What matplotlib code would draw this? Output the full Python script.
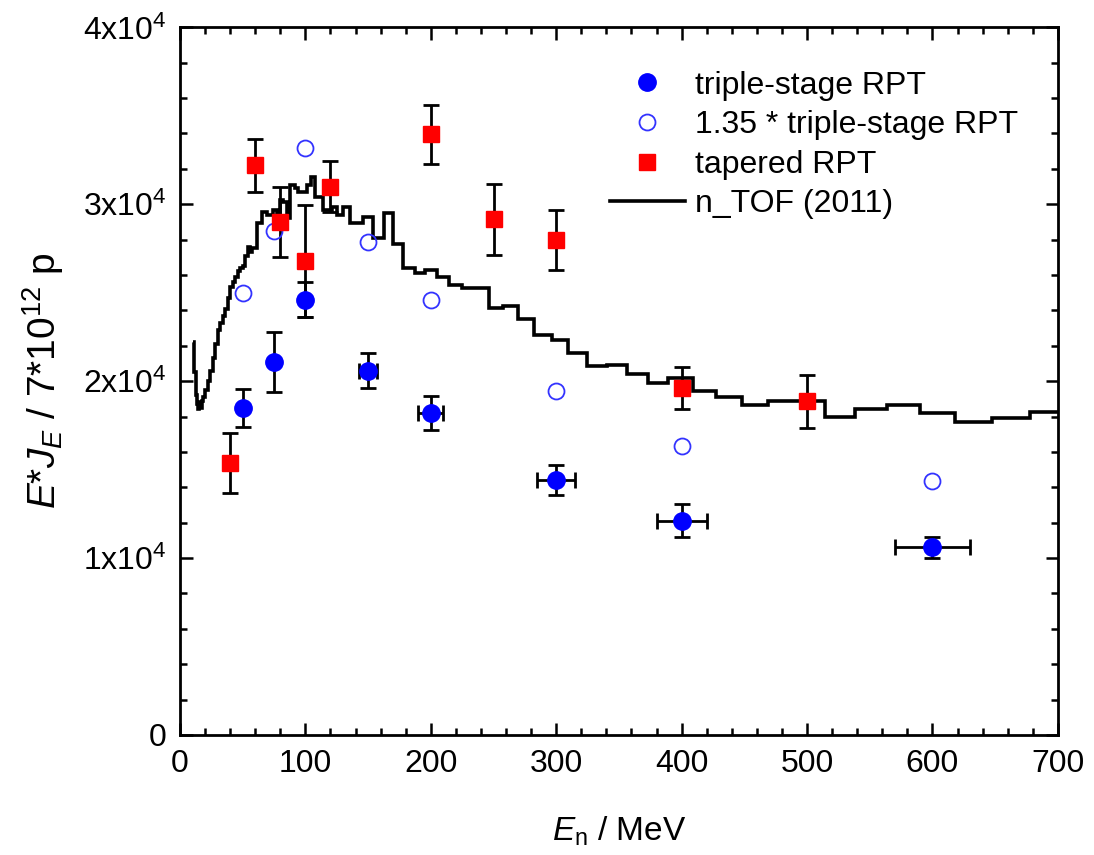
import numpy as np
import matplotlib
matplotlib.use("Agg")
import matplotlib.pyplot as plt
from matplotlib.ticker import MultipleLocator

plt.rcParams['font.family'] = ['Liberation Sans', 'DejaVu Sans']
plt.rcParams['mathtext.fontset'] = 'custom'
plt.rcParams['mathtext.rm'] = 'Liberation Sans'
plt.rcParams['mathtext.it'] = 'Liberation Sans:italic'
plt.rcParams['mathtext.default'] = 'regular'

# triple-stage RPT (filled circles)
ts_E = [50, 75, 100, 150, 200, 300, 400, 600]
ts_flux = [18500, 21100, 24600, 20600, 18200, 14400, 12100, 10600]
ts_yerr = [1070, 1700, 980, 1000, 950, 850, 930, 600]
ts_xerr = [0, 0, 0, 7, 10, 15, 20, 30]

# 1.35 * triple-stage RPT (open circles)
sc_flux = [25000, 28500, 33200, 27850, 24600, 19450, 16330, 14350]

# tapered RPT (red squares)
tap_E = [40, 60, 80, 100, 120, 200, 250, 300, 400, 500]
tap_flux = [15350, 32200, 29000, 26800, 31000, 33950, 29150, 27970, 19600, 18870]
tap_err = [1700, 1500, 2000, 3150, 1450, 1650, 2000, 1700, 1180, 1500]

# n_TOF (2011) histogram: bin edges and heights
tof_edges = [10.5, 11.5, 12.5, 13.5, 14.5, 15.5, 16.5, 17.5, 18.5, 20, 22, 24, 26, 28,
             30, 32, 34, 36, 38, 40, 42, 44, 46, 48, 50, 52, 54, 55.5, 57.4, 61.4,
             65.4, 69.4, 74.1, 77.3, 79.7, 82.1, 85.3, 87.7, 91.7, 94.1, 101.3, 104.4,
             107.6, 114, 121.2, 125.2, 130, 135.5, 145.9, 153.9, 162.6, 170.1, 178,
             187.4, 195.3, 204.7, 214.7, 224.6, 246.3, 257.8, 269.7, 282.2, 296.3,
             309.6, 324.2, 340.2, 356.1, 373.4, 389.3, 408.8, 427.3, 448.3, 469,
             514.2, 538.2, 563.4, 590, 617.9, 647.1, 677.7, 705]
tof_flux = [22200, 20500, 19200, 18700, 18450, 18800, 18500, 18900, 19100, 19500, 20000,
            20600, 21300, 22100, 22900, 23300, 23700, 24100, 24700, 25300, 25600, 25900,
            26200, 26400, 26500, 27100, 27600, 27300, 27500, 28930, 29550, 29380, 29660,
            29380, 30230, 30110, 29210, 31070, 30900, 30680, 31070, 31530, 30400, 29660,
            29830, 29380, 29830, 28930, 29270, 28080, 29490, 27780, 26370, 26120, 26310,
            25890, 25420, 25250, 24160, 24240, 23540, 22600, 22320, 21600, 20850, 20940,
            20400, 19870, 20190, 19450, 19110, 18680, 18880, 17980, 18400, 18640, 18180,
            17670, 17930, 18270]

fig = plt.figure(figsize=(10.94, 8.55), dpi=100)
ax = fig.add_axes([0.1645, 0.1404, 0.8025, 0.8276])

ax.stairs(tof_flux, tof_edges, baseline=None, color='black', lw=2.6, zorder=2)
ax.plot([], [], color='black', lw=2.6, label='n_TOF (2011)')

ax.errorbar(ts_E, ts_flux, yerr=ts_yerr, xerr=ts_xerr, fmt='none', ecolor='black',
            elinewidth=2, capsize=6, capthick=2, zorder=3)
ax.errorbar(tap_E, tap_flux, yerr=tap_err, fmt='none', ecolor='black',
            elinewidth=2, capsize=6, capthick=2, zorder=3)

ax.plot(ts_E, ts_flux, 'o', color='#0000ff', ms=12.5, zorder=4, label='triple-stage RPT')
ax.plot(ts_E, sc_flux, 'o', mfc='none', mec='#3333ff', mew=1.3, ms=11.5, zorder=4,
        label='1.35 * triple-stage RPT')
ax.plot(tap_E, tap_flux, 's', color='#ff0000', ms=11, zorder=4, label='tapered RPT')

ax.set_xlim(0, 700)
ax.set_ylim(0, 40000)
ax.xaxis.set_major_locator(MultipleLocator(100))
ax.xaxis.set_minor_locator(MultipleLocator(20))
ax.yaxis.set_minor_locator(MultipleLocator(2000))
ax.set_yticks([0, 10000, 20000, 30000, 40000])
ax.set_yticklabels(['0', '1x10$^4$', '2x10$^4$', '3x10$^4$', '4x10$^4$'])

ax.tick_params(which='both', direction='in', top=True, right=True, labelsize=23, width=1.8)
ax.tick_params(which='major', length=9, pad=10)
ax.tick_params(which='minor', length=5)
for s in ax.spines.values():
    s.set_linewidth(2)

ax.set_xlabel(r'$\mathit{E}_\mathrm{n}$ / MeV', fontsize=24, labelpad=26)
ax.set_ylabel(r'$\mathit{E}$*$\mathit{J}_\mathit{E}$ / 7*10$^{12}$ p', fontsize=28, labelpad=12)

handles, labels = ax.get_legend_handles_labels()
order = [labels.index(l) for l in ['triple-stage RPT', '1.35 * triple-stage RPT',
                                   'tapered RPT', 'n_TOF (2011)']]
ax.legend([handles[i] for i in order], [labels[i] for i in order], loc='upper left',
          bbox_to_anchor=(0.4897, 0.939), frameon=False, fontsize=23, handlelength=2.35,
          labelspacing=0.3, borderaxespad=0, borderpad=0, handletextpad=0.3)

fig.savefig('out.png', dpi=100)
